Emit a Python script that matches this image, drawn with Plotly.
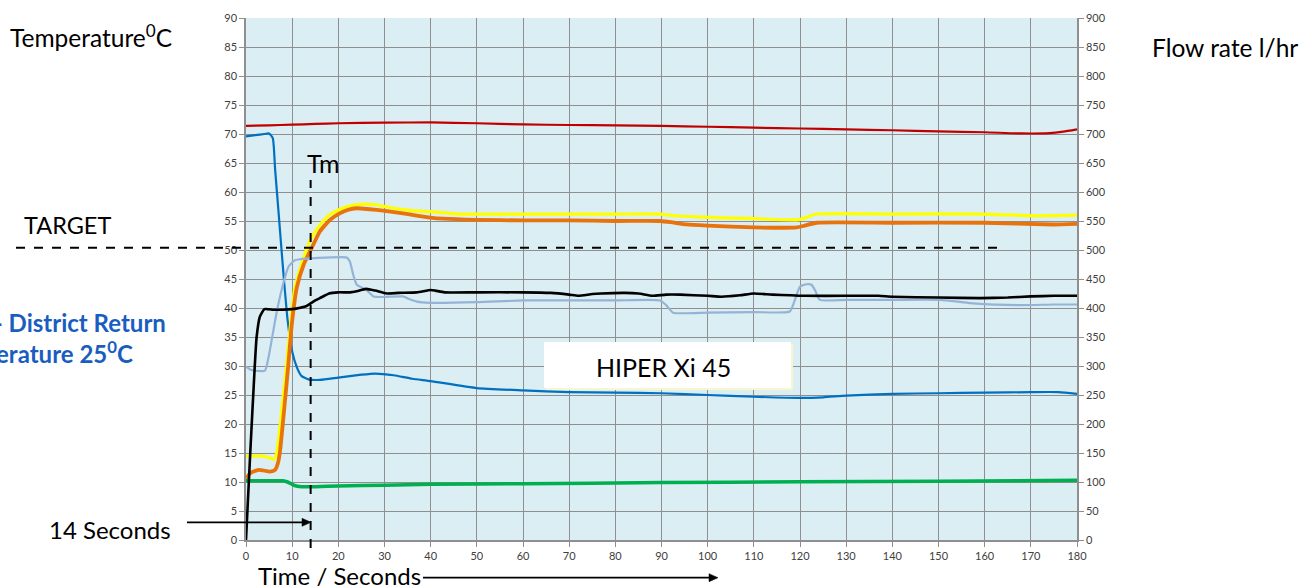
import plotly.graph_objects as go

# ---- series: time (s) and readings ----
# primary flow temperature (deg C)
red_t = [0, 5, 10, 15, 20, 30, 40, 50, 60, 70, 80, 90, 100, 110, 120, 130, 140, 150, 160, 168, 174, 177, 180]
red_v = [71.4, 71.5, 71.6, 71.75, 71.85, 71.95, 72.0, 71.85, 71.65, 71.55, 71.5, 71.4, 71.25, 71.1, 70.95,
         70.8, 70.65, 70.45, 70.3, 70.1, 70.15, 70.4, 70.8]

# district return temperature (deg C)
blue_t = [0, 2, 4, 5, 5.8, 6.3, 7, 8, 9, 10, 11, 12, 13.5, 16, 20, 25, 28, 32, 36, 40, 50, 60, 70, 80, 90,
          100, 110, 120, 125, 130, 140, 150, 160, 170, 176, 180]
blue_v = [69.6, 69.8, 70.0, 70.1, 69.3, 64, 57, 47, 38, 32.5, 29.8, 28.3, 27.7, 27.6, 28.0, 28.5, 28.7, 28.4,
          27.8, 27.4, 26.2, 25.8, 25.5, 25.4, 25.3, 25.0, 24.7, 24.5, 24.6, 24.9, 25.2, 25.3, 25.4, 25.5,
          25.5, 25.2]

# hot water outlet temperature, first sensor (deg C)
yellow_t = [0, 3, 5, 6, 6.5, 7, 7.7, 8.5, 9.5, 10.5, 12, 14, 16, 18, 20, 22, 25, 28, 32, 36, 40, 47, 60, 80,
            89.7, 93, 97.6, 110, 119.3, 121, 123.6, 140, 159.7, 170.5, 180]
yellow_v = [14.4, 14.5, 14.2, 13.9, 14.5, 17, 22, 28, 36, 43, 47.5, 51.8, 54.3, 56, 56.9, 57.5, 57.9, 57.8,
            57.2, 56.8, 56.6, 56.2, 56.2, 56.2, 56.2, 55.9, 55.7, 55.4, 55.2, 55.5, 56.2, 56.2, 56.2, 55.9, 56.0]

# hot water outlet temperature, second sensor (deg C)
orange_t = [0, 0.9, 2.7, 5.2, 6.3, 7, 7.4, 8.4, 9.2, 9.9, 11, 12.5, 14.2, 16, 18.2, 20, 22, 24, 28.3, 34,
            39.9, 42.7, 50, 60, 70, 80, 89.7, 92, 95.4, 100, 110, 119.3, 121, 123.6, 140, 160, 174.8, 180]
orange_v = [10.6, 11.5, 12.1, 11.8, 12.1, 13.5, 15.5, 23.6, 30.5, 37, 43.5, 47.5, 50.3, 53.2, 55.2, 56.2,
            56.9, 57.2, 56.9, 56.3, 55.6, 55.4, 55.2, 55.1, 55.1, 55.0, 55.0, 54.8, 54.4, 54.2, 53.9, 53.9,
            54.2, 54.7, 54.7, 54.7, 54.4, 54.5]

# cold water inlet temperature (deg C)
green_t = [0, 8, 9, 10.5, 12, 15, 20, 30, 40, 60, 90, 120, 150, 180]
green_v = [10.2, 10.2, 10.0, 9.4, 9.2, 9.2, 9.3, 9.45, 9.6, 9.7, 9.9, 10.05, 10.15, 10.3]

# hot water flow rate (l/hr)
black_t = [0, 0.9, 1.9, 2.3, 3, 4, 6, 8, 10, 12, 13, 14, 15, 16, 18, 20, 22.5, 24, 26, 28, 30.5, 33, 37, 40,
           41, 43, 50, 60, 66, 70, 72, 75, 77, 82, 85, 88, 91, 94, 100, 103, 107, 110, 114, 118, 121, 130,
           137, 140, 150, 159, 165, 170, 175, 180]
black_v = [0, 147, 300, 350, 385, 398, 397, 397, 398, 401, 403, 408, 413, 417, 425, 427, 427, 429, 433, 430,
           425, 426, 427, 431, 430, 427, 427, 427, 426, 423, 421, 424, 425, 426, 425, 421, 423, 423, 421,
           419.5, 422, 425, 423, 422, 421, 421, 421, 419.5, 418, 417, 418, 420, 421, 421]

# primary flow rate (l/hr)
steel_t = [0, 1.2, 4.1, 5, 6.6, 8, 9.2, 10.5, 11.7, 15, 21.8, 22.5, 23.3, 24, 26.1, 27.6, 30, 34, 35.5, 37,
           40, 50, 60, 70, 80, 89.7, 91, 92.5, 100, 110, 117.8, 118.9, 120, 121.4, 122.5, 123.3, 124.3, 130,
           140, 150.3, 155, 157.5, 167.6, 175, 180]
steel_v = [299, 293, 292, 320, 391, 440, 471, 482, 484, 486, 487, 480, 455, 440, 431, 420, 419, 420, 415,
           411, 409, 410, 413, 413, 413, 413, 405, 392, 392, 393, 394, 414, 437, 441, 440, 430, 414, 414,
           414, 414, 410, 408, 405, 406, 406]

target_temp = 50.4
mark_time = 14

# ---- layout geometry (pixels of the 1300 x 586 page) ----
W, H = 1300, 586
L, R, T, B = 246, 1077, 18, 540


def px(x):
    return (x - L) / (R - L)


def py(y):
    return (B - y) / (B - T)


FONT = "Lato"
TICKFONT = dict(family=FONT, size=11, color="#404040")
GRID = "#8f8f8f"

fig = go.Figure()

temp_series = [
    (red_t, red_v, "#C00000", 2.2),
    (blue_t, blue_v, "#0070C0", 2.2),
    (green_t, green_v, "#00B050", 3.5),
    (yellow_t, yellow_v, "#FFFF00", 3.2),
    (orange_t, orange_v, "#E8720C", 3.8),
]
flow_series = [
    (steel_t, steel_v, "#95B3D7", 2.2),
    (black_t, black_v, "#000000", 2.6),
]

for t, v, c, w in flow_series:
    fig.add_trace(go.Scatter(x=t, y=v, mode="lines", yaxis="y2",
                             line=dict(color=c, width=w, shape="spline", smoothing=0.5),
                             hoverinfo="skip", showlegend=False))
for t, v, c, w in temp_series:
    fig.add_trace(go.Scatter(x=t, y=v, mode="lines",
                             line=dict(color=c, width=w, shape="spline", smoothing=0.5),
                             hoverinfo="skip", showlegend=False))


def arrow(x_tail, x_head, y):
    """Horizontal arrow drawn as a line plus a filled head, in page pixels."""
    head = 9
    half = 4
    return [
        dict(type="line", xref="paper", yref="paper", x0=px(x_tail), x1=px(x_head - head + 1),
             y0=py(y), y1=py(y), line=dict(color="black", width=1.8), layer="above"),
        dict(type="path", xref="paper", yref="paper",
             path=f"M {px(x_head)} {py(y)} L {px(x_head - head)} {py(y - half)} "
                  f"L {px(x_head - head)} {py(y + half)} Z",
             fillcolor="black", line=dict(color="black", width=0.5), layer="above"),
    ]


shapes = [
    # target line and the 14 s marker
    dict(type="line", xref="paper", yref="y", x0=px(16), x1=px(1000), y0=target_temp, y1=target_temp,
         line=dict(color="black", width=2, dash="dash"), layer="above"),
    dict(type="line", xref="x", yref="paper", x0=mark_time, x1=mark_time, y0=py(548), y1=py(180),
         line=dict(color="black", width=2, dash="dash"), layer="above"),
    # model label box with a faint shadow
    dict(type="rect", xref="paper", yref="paper", x0=px(546), x1=px(793), y0=py(390), y1=py(344),
         fillcolor="#F8F6CF", line=dict(width=0), layer="above"),
    dict(type="rect", xref="paper", yref="paper", x0=px(544), x1=px(791), y0=py(388), y1=py(342),
         fillcolor="white", line=dict(width=0), layer="above"),
]
shapes += arrow(187, 311, 522.3)
shapes += arrow(423, 718, 577.7)

BLUE_TXT = "#1A5DC0"
annotations = [
    dict(text="Temperature<sup>0</sup>C", x=px(8), y=py(36), xanchor="left", yanchor="middle",
         font=dict(size=24.5)),
    dict(text="Flow rate l/hr", x=px(1150), y=py(47), xanchor="left", yanchor="middle",
         font=dict(size=24.5)),
    dict(text="TARGET", x=px(22), y=py(225), xanchor="left", yanchor="middle",
         font=dict(size=23.5)),
    dict(text="Tm", x=px(305), y=py(163), xanchor="left", yanchor="middle",
         font=dict(size=25)),
    dict(text="<b>Primary - District Return</b>", x=px(168), y=py(322), xanchor="right",
         yanchor="middle", font=dict(size=24, color=BLUE_TXT)),
    dict(text="<b>Temperature 25<sup>0</sup>C</b>", x=px(135), y=py(352), xanchor="right",
         yanchor="middle", font=dict(size=24, color=BLUE_TXT)),
    dict(text="14 Seconds", x=px(47), y=py(529), xanchor="left", yanchor="middle",
         font=dict(size=24)),
    dict(text="Time / Seconds", x=px(256), y=py(575), xanchor="left", yanchor="middle",
         font=dict(size=24)),
    dict(text="HIPER Xi 45", x=px(663), y=py(367), xanchor="center", yanchor="middle",
         font=dict(size=25)),
]
for a in annotations:
    a["xref"] = "paper"
    a["yref"] = "paper"
    a["showarrow"] = False
    a["font"].setdefault("color", "black")
    a["font"]["family"] = FONT

axis_common = dict(ticks="outside", ticklen=5, tickcolor=GRID, tickwidth=1, tickfont=TICKFONT,
                   showline=True, linecolor=GRID, linewidth=1.5, zeroline=False)

fig.update_layout(
    width=W, height=H,
    margin=dict(l=L, r=W - R, t=T, b=H - B, autoexpand=False),
    paper_bgcolor="white",
    plot_bgcolor="#DAEEF3",
    font=dict(family=FONT, color="black"),
    showlegend=False,
    xaxis=dict(range=[0, 180], dtick=10, tick0=0, showgrid=True, gridcolor=GRID, gridwidth=1,
               **axis_common),
    yaxis=dict(range=[0, 90], dtick=5, tick0=0, showgrid=True, gridcolor=GRID, gridwidth=1,
               **axis_common),
    yaxis2=dict(range=[0, 900], dtick=50, tick0=0, overlaying="y", side="right", showgrid=False,
                **axis_common),
    shapes=shapes,
    annotations=annotations,
)

fig.write_html("out.html", config={"displayModeBar": False})
